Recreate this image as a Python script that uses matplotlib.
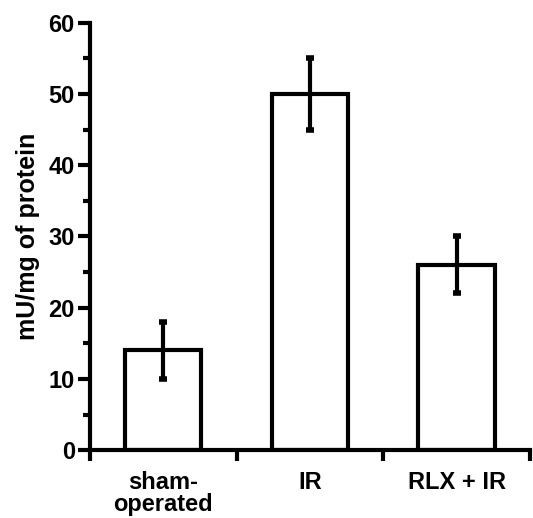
import matplotlib
matplotlib.use("Agg")
import matplotlib.pyplot as plt
import numpy as np

categories = ["sham-\noperated", "IR", "RLX + IR"]
means = [14, 50, 26]
errors = [4, 5, 4]
y_ticks = [0, 10, 20, 30, 40, 50, 60]

plt.rcParams['font.family'] = ['Liberation Sans', 'DejaVu Sans']
plt.rcParams['font.weight'] = 'bold'

fig = plt.figure(figsize=(5.33, 5.18), dpi=100)
ax = fig.add_axes([0.169, 0.131, 0.825, 0.825])

x = np.arange(len(categories)) + 0.5
ax.bar(x, means, width=0.52, color='white', edgecolor='black', linewidth=3, zorder=2)
ax.errorbar(x, means, yerr=errors, fmt='none', ecolor='black', elinewidth=3,
            capsize=3, capthick=4, zorder=3)

ax.set_xlim(0, 3)
ax.set_ylim(0, 60)
ax.set_yticks(y_ticks)
ax.set_yticks(np.arange(5, 60, 10), minor=True)
ax.set_xticks([0, 1, 2, 3])
ax.set_xticklabels([])
ax.set_xticks(x, minor=True)
ax.set_xticklabels(categories, minor=True, fontsize=17, fontweight='bold', linespacing=0.95)
ax.tick_params(axis='x', which='minor', length=0, pad=15)
ax.tick_params(axis='x', which='major', length=8, width=3, direction='out')
ax.tick_params(axis='y', which='major', length=9, width=3, labelsize=17, pad=2)
ax.tick_params(axis='y', which='minor', length=5, width=3)

for s in ['top', 'right']:
    ax.spines[s].set_visible(False)
for s in ['left', 'bottom']:
    ax.spines[s].set_linewidth(3)

ax.set_ylabel("mU/mg of protein", fontsize=18, fontweight='bold', labelpad=6)

fig.savefig("out.png", dpi=100)
